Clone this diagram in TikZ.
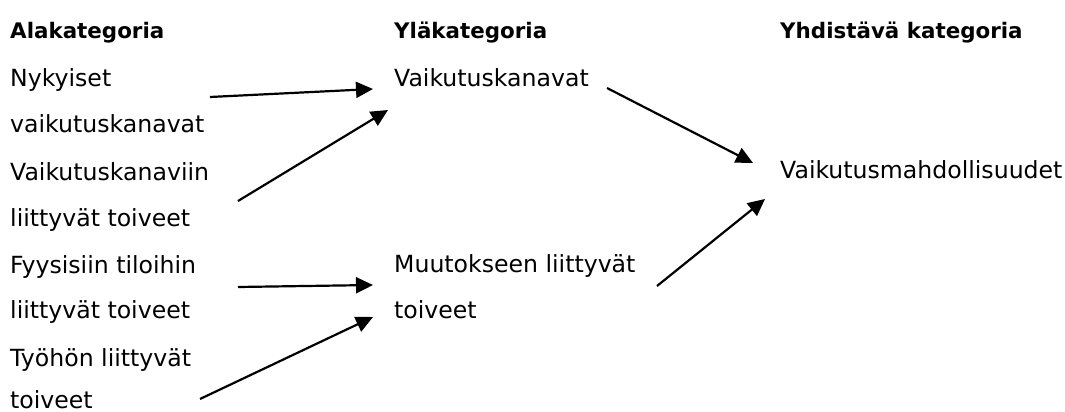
\documentclass[tikz,border=0pt]{standalone}
\usepackage{fontspec}
\setmainfont{DejaVu Sans}
\usetikzlibrary{arrows.meta}
\begin{document}
\begin{tikzpicture}[x=1pt,y=-1pt,
  txt/.style={anchor=base west,inner sep=0pt,font=\fontsize{23.6}{28}\selectfont},
  head/.style={anchor=base west,inner sep=0pt,font=\fontsize{21.4}{26}\selectfont\bfseries},
  arr/.style={line width=2.2pt,-{Triangle[length=17pt,width=16pt]}}]
\useasboundingbox (0,0) rectangle (1065,412);
% headers
\node[head] (h1) at (10,38) {Alakategoria};
\node[head] (h2) at (394,38) {Yläkategoria};
\node[head] (h3) at (780,38) {Yhdistävä kategoria};
% left column
\node[txt] (a1) at (10,86) {Nykyiset};
\node[txt] (a2) at (10,132) {vaikutuskanavat};
\node[txt] (a3) at (10,180) {Vaikutuskanaviin};
\node[txt] (a4) at (10,226) {liittyvät toiveet};
\node[txt] (a5) at (10,273) {Fyysisiin tiloihin};
\node[txt] (a6) at (10,318) {liittyvät toiveet};
\node[txt] (a7) at (10,366) {Työhön liittyvät};
\node[txt] (a8) at (10,408) {toiveet};
% middle column
\node[txt] (m1) at (394,86) {Vaikutuskanavat};
\node[txt] (m2) at (394,272) {Muutokseen liittyvät};
\node[txt] (m3) at (394,318) {toiveet};
% right column
\node[txt] (r1) at (780,178) {Vaikutusmahdollisuudet};
% arrow end points
\coordinate (s1) at (210,97);  \coordinate (e1) at (373,89);
\coordinate (s2) at (238,201); \coordinate (e2) at (388,110);
\coordinate (s3) at (238,287); \coordinate (e3) at (373,285);
\coordinate (s4) at (200,399); \coordinate (e4) at (373,317);
\coordinate (s5) at (607,88);  \coordinate (e5) at (753,163);
\coordinate (s6) at (657,286); \coordinate (e6) at (765,199);
\draw[arr] (s1) -- (e1);
\draw[arr] (s2) -- (e2);
\draw[arr] (s3) -- (e3);
\draw[arr] (s4) -- (e4);
\draw[arr] (s5) -- (e5);
\draw[arr] (s6) -- (e6);
\end{tikzpicture}
\end{document}
